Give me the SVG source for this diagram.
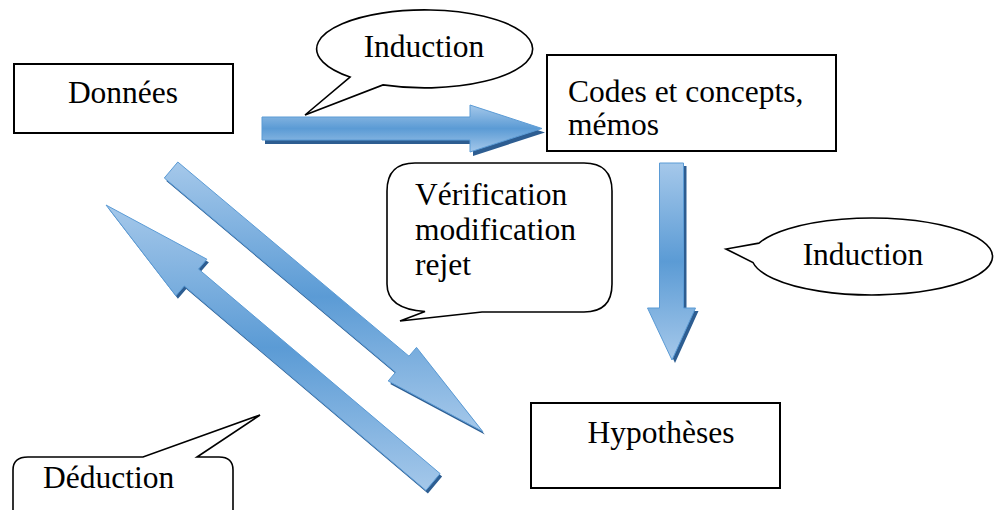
<svg xmlns="http://www.w3.org/2000/svg" width="995" height="510" viewBox="0 0 995 510">
<defs>
<linearGradient id="g" x1="0" y1="0" x2="0" y2="1">
<stop offset="0" stop-color="#a5c8ea"/>
<stop offset="0.5" stop-color="#5b9bd5"/>
<stop offset="1" stop-color="#a5c8ea"/>
</linearGradient>
<style>
.box{fill:#fff;stroke:#000;stroke-width:2}
.call{fill:#fff;stroke:#000;stroke-width:1.6}
.t{font-size:31.5px;fill:#000}
.arr{fill:url(#g);stroke:#5b9bd5;stroke-width:1}
.sh{fill:#2d5d91}
</style>
</defs>
<rect width="995" height="510" fill="#fff"/>

<g id="connectors">
<g id="arrow-donnees-codes">
<polygon class="sh" transform="translate(3,4)" points="262,117 470,117 470,105 542,128.5 470,152 470,140 262,140"/>
<polygon class="arr" points="262,117 470,117 470,105 542,128.5 470,152 470,140 262,140"/>
</g>
<g id="arrow-codes-hypotheses">
<polygon class="sh" transform="translate(3,3)" points="659.5,163 683.5,163 683.5,308 695.5,308 672,360 647.5,308 659.5,308"/>
<polygon class="arr" points="659.5,163 683.5,163 683.5,308 695.5,308 672,360 647.5,308 659.5,308"/>
</g>
<g id="arrow-donnees-hypotheses">
<polygon class="sh" transform="translate(2,3)" points="164.3,178 177.8,162 409,356.2 416.5,347.4 482.8,431.6 388.2,381 395.6,372.2"/>
<polygon class="arr" points="164.3,178 177.8,162 409,356.2 416.5,347.4 482.8,431.6 388.2,381 395.6,372.2"/>
</g>
<g id="arrow-hypotheses-donnees">
<polygon class="sh" transform="translate(2,3)" points="440.1,473.6 425.9,490.4 184.3,285.9 175.9,295.8 106,205 206.9,259.2 198.5,269.1"/>
<polygon class="arr" points="440.1,473.6 425.9,490.4 184.3,285.9 175.9,295.8 106,205 206.9,259.2 198.5,269.1"/>
</g>
</g>

<g font-family="'Liberation Serif', 'DejaVu Serif', serif">
<g id="node-donnees">
<rect class="box" x="14" y="64" width="219" height="69"/>
<text class="t" x="123" y="103" text-anchor="middle">Données</text>
</g>

<g id="node-codes">
<rect class="box" x="547" y="55" width="289" height="96"/>
<text class="t" x="568" y="102">Codes et concepts,</text>
<text class="t" x="568" y="135">mémos</text>
</g>

<g id="node-hypotheses">
<rect class="box" x="531" y="403" width="249" height="85"/>
<text class="t" x="661" y="443" text-anchor="middle">Hypothèses</text>
</g>

<g id="callout-induction-top">
<path class="call" d="M350,77.1 L305,115 L383,84.9 A108 39 0 1 0 350,77.1 Z"/>
<text class="t" x="424" y="57" text-anchor="middle">Induction</text>
</g>

<g id="callout-induction-right">
<path class="call" d="M759,243.1 L726,249 L753,262.5 A120.5 38.5 0 1 0 759,243.1 Z"/>
<text class="t" x="863" y="265" text-anchor="middle">Induction</text>
</g>

<g id="callout-verification">
<path class="call" d="M415,163 L584,163 Q612,163 612,191 L612,284 Q612,312 584,312 L482,312 L400,321 L425,311.5 Q387,309 387,284 L387,191 Q387,163 415,163 Z"/>
<text class="t" x="415" y="205">Vérification</text>
<text class="t" x="415" y="240">modification</text>
<text class="t" x="415" y="275">rejet</text>
</g>

<g id="callout-deduction">
<path class="call" d="M13,530 L13,470 Q13,457 28,457 L143,457 L260,415 L197,457 L219,457 Q233,457 233,470 L233,530"/>
<text class="t" x="43" y="488">Déduction</text>
</g>
</g>
</svg>
